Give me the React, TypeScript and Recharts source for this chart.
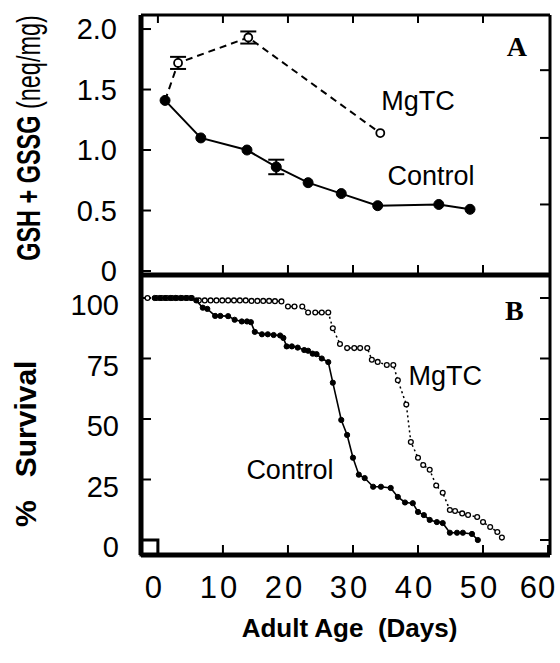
import React from 'react';
import { LineChart, Line, XAxis, YAxis, ErrorBar, ReferenceDot, ReferenceArea } from 'recharts';

const FONT = '"Liberation Sans", Arial, Helvetica, sans-serif';
const SERIF = '"Liberation Serif", "Times New Roman", serif';

// ---------- axes ----------
const X_DOMAIN: [number, number] = [-2.6, 60.3];
const xTicksBottom = [0, 10, 20, 30, 40, 50, 60];
const xTicksPanelA = [0, 10, 20, 30, 40, 50];
const xTicksPanelABottom = [10, 20, 30, 40, 50];
const GSH_DOMAIN: [number, number] = [-0.033, 2.116];
const gshTicks = [0, 0.5, 1.0, 1.5, 2.0];
const gshRightTicks = [0.55, 1.1, 1.66];
const SURV_DOMAIN: [number, number] = [-6.2, 109.5];
const survTicks = [0, 25, 50, 75, 100];

// ---------- panel A: GSH + GSSG ----------
const controlAgeDays = [1.1, 6.6, 13.7, 18.2, 23.1, 28.2, 33.8, 43.2, 48.0];
const controlGsh = [1.41, 1.10, 1.00, 0.86, 0.73, 0.64, 0.54, 0.55, 0.51];
const controlGshErr = [0, 0, 0, 0.06, 0, 0, 0, 0, 0];
const mgtcAgeDays = [1.1, 3.1, 13.9, 34.2];
const mgtcGsh = [1.41, 1.72, 1.93, 1.14];
const mgtcGshErr = [0, 0.05, 0.05, 0];

// ---------- panel B: % survival ----------
const controlSurvDays = [-0.5, 0.3, 1.1, 1.9, 2.7, 3.5, 4.3, 5.1, 5.9, 6.9, 7.6, 8.8, 9.6, 10.8, 11.8, 12.9, 13.7, 14.3, 14.9, 16.0, 16.9, 17.8, 18.8, 19.3, 19.8, 20.6, 21.5, 22.5, 23.1, 23.8, 24.4, 25.2, 26.2, 26.9, 28.2, 29.1, 30.0, 30.9, 31.8, 33.1, 34.3, 35.8, 36.9, 38.0, 39.2, 40.0, 40.9, 41.8, 42.9, 43.8, 44.9, 46.0, 46.9, 48.3, 49.2];
const controlSurv = [100, 100, 100, 100, 100, 100, 100, 100, 99, 96, 95.5, 92.6, 92.6, 92.5, 91, 90.3, 90.3, 90, 86, 85, 85, 84.7, 84.5, 83.5, 80, 80, 79.5, 78.5, 78.2, 77, 76.8, 75, 73.5, 65, 49.6, 43.4, 34, 27, 25.6, 22, 22, 21.5, 17.8, 15.5, 15.2, 11.6, 10.3, 8.3, 7.4, 7, 3, 3, 3, 2.5, 0];
const mgtcSurvDays = [-1.6, -0.2, 0.6, 1.4, 2.2, 2.9, 3.7, 4.5, 5.2, 6.3, 7.2, 8.1, 9.0, 9.9, 10.8, 11.7, 12.6, 13.5, 14.4, 15.3, 16.2, 17.1, 18.0, 19.0, 20.0, 21.0, 22.2, 23.1, 24.2, 25.2, 26.2, 26.9, 28.0, 29.1, 30.2, 31.1, 32.2, 32.9, 33.8, 35.2, 36.2, 36.9, 38.2, 38.9, 40.0, 40.8, 41.8, 42.8, 43.8, 44.9, 45.7, 46.8, 47.7, 49.1, 50.0, 51.1, 52.2, 52.9];
const mgtcSurv = [100, 100, 100, 100, 100, 100, 100, 100, 100, 99, 99, 99, 99, 99, 99, 99, 99, 99, 98.8, 98.8, 98.8, 98.8, 98.7, 98.6, 96.5, 96.5, 96.5, 94, 94, 94, 94, 87.5, 81, 79.3, 79.3, 79.3, 79.3, 74.5, 73.6, 72.3, 72.3, 66, 56, 40.5, 34, 31, 29, 22.5, 19.5, 12.4, 12, 11, 10.3, 9.5, 7.4, 5.4, 3.3, 1];

const zip = (xs: number[], ys: number[], es?: number[]) =>
  xs.map((x, i) => ({ x, y: ys[i], err: es ? es[i] : 0 }));

const controlGshData = zip(controlAgeDays, controlGsh, controlGshErr);
const mgtcGshData = zip(mgtcAgeDays, mgtcGsh, mgtcGshErr);
const controlSurvData = zip(controlSurvDays, controlSurv);
const mgtcSurvData = zip(mgtcSurvDays, mgtcSurv);

const tickText = { fill: '#000', fontSize: 29, fontFamily: FONT };
const axisThick = { stroke: '#000', strokeWidth: 5 };
const axisThin = { stroke: '#000', strokeWidth: 3 };
const tickStroke = { stroke: '#000', strokeWidth: 2 };

const AgeTick = (props: any) => {
  const { x, y, payload } = props;
  const last = payload.value === xTicksBottom[xTicksBottom.length - 1];
  return (
    <text
      x={x + (last ? -10 : -3)}
      y={y}
      dy={22}
      textAnchor="middle"
      fontFamily={FONT}
      fontSize={31}
      letterSpacing={last ? 1 : 3}
      fill="#000"
    >
      {String(payload.value)}
    </text>
  );
};

const GshTitle = (props: any) => {
  const vb = props.viewBox || { x: 0, y: 15, width: 141, height: 260 };
  const cx = vb.x + 28;
  const cy = vb.y + vb.height / 2 - 7;
  return (
    <text
      transform={`translate(${cx},${cy}) rotate(-90) scale(0.69,1)`}
      textAnchor="middle"
      dominantBaseline="central"
      fontFamily={FONT}
      fontSize={34}
      fill="#000"
    >
      <tspan fontWeight="bold">GSH + GSSG </tspan>
      <tspan>(neq/mg)</tspan>
    </text>
  );
};

const SurvTitle = (props: any) => {
  const vb = props.viewBox || { x: 0, y: 275, width: 141, height: 280 };
  const cx = vb.x + 25;
  const cy = vb.y + 252;
  return (
    <text
      transform={`translate(${cx},${cy}) rotate(-90)`}
      textAnchor="start"
      dominantBaseline="central"
      fontFamily={FONT}
      fontSize={30}
      fontWeight="bold"
      fill="#000"
    >
      <tspan>%</tspan>
      <tspan dx={23}>Survival</tspan>
    </text>
  );
};

const AgeTitle = (props: any) => {
  const vb = props.viewBox || { x: 141, y: 555, width: 409, height: 108 };
  return (
    <text
      x={vb.x + vb.width / 2 + 4}
      y={vb.y + 82}
      textAnchor="middle"
      fontFamily={FONT}
      fontSize={26}
      fontWeight="bold"
      fill="#000"
      style={{ whiteSpace: 'pre' }}
    >
      {'Adult Age  (Days)'}
    </text>
  );
};

const mgtcGshDot = (props: any) => {
  const { cx, cy, index } = props;
  if (index === 0) return <g key={`mg-${index}`} />;
  return <circle key={`mg-${index}`} cx={cx} cy={cy} r={4} fill="#fff" stroke="#000" strokeWidth={1.8} />;
};

const annot = (value: string, size = 27, family = FONT, weight: any = 'normal') => ({
  value,
  position: 'center' as const,
  fill: '#000',
  fontSize: size,
  fontFamily: family,
  fontWeight: weight,
});

export default function App() {
  return (
    <div style={{ position: 'absolute', left: 0, top: 0, width: 560, height: 663, background: '#fff' }}>
      {/* Panel A */}
      <div style={{ position: 'absolute', left: 0, top: 0 }}>
        <LineChart width={560} height={300} margin={{ top: 14, right: 0, bottom: 20, left: 0 }}>
          <XAxis
            xAxisId="b"
            type="number"
            dataKey="x"
            domain={X_DOMAIN}
            allowDataOverflow
            ticks={xTicksPanelABottom}
            interval={0}
            tickSize={-10}
            tickFormatter={() => ''}
            height={5}
            axisLine={axisThick}
            tickLine={tickStroke}
          />
          <XAxis
            xAxisId="t"
            orientation="top"
            type="number"
            dataKey="x"
            domain={X_DOMAIN}
            allowDataOverflow
            ticks={xTicksPanelA}
            interval={0}
            tickSize={-8}
            tickFormatter={() => ''}
            height={1}
            axisLine={axisThin}
            tickLine={tickStroke}
          />
          <YAxis
            yAxisId="l"
            type="number"
            domain={GSH_DOMAIN}
            allowDataOverflow
            ticks={gshTicks}
            interval={0}
            tickSize={-10}
            tickMargin={34}
            width={141}
            tick={tickText}
            tickFormatter={(v: number) => (v === 0 ? '0' : v.toFixed(1))}
            axisLine={axisThick}
            tickLine={tickStroke}
            label={{ content: GshTitle }}
          />
          <YAxis
            yAxisId="r"
            orientation="right"
            type="number"
            domain={GSH_DOMAIN}
            allowDataOverflow
            ticks={gshRightTicks}
            interval={0}
            tickSize={-10}
            tickFormatter={() => ''}
            width={10}
            axisLine={axisThin}
            tickLine={tickStroke}
          />
          <Line
            xAxisId="b"
            yAxisId="l"
            data={mgtcGshData}
            dataKey="y"
            stroke="#000"
            strokeWidth={2}
            strokeDasharray="7 5"
            dot={mgtcGshDot}
            isAnimationActive={false}
          >
            <ErrorBar dataKey="err" width={8} stroke="#000" strokeWidth={2} direction="y" />
          </Line>
          <Line
            xAxisId="b"
            yAxisId="l"
            data={controlGshData}
            dataKey="y"
            stroke="#000"
            strokeWidth={2}
            dot={{ r: 5, fill: '#000', stroke: '#000', strokeWidth: 1 }}
            isAnimationActive={false}
          >
            <ErrorBar dataKey="err" width={8} stroke="#000" strokeWidth={2} direction="y" />
          </Line>
          <ReferenceDot xAxisId="b" yAxisId="l" x={40} y={1.413} r={0} fill="none" stroke="none" label={annot('MgTC')} />
          <ReferenceDot xAxisId="b" yAxisId="l" x={42} y={0.793} r={0} fill="none" stroke="none" label={annot('Control')} />
          <ReferenceDot xAxisId="b" yAxisId="l" x={55.2} y={1.86} r={0} fill="none" stroke="none" label={annot('A', 28, SERIF, 'bold')} />
        </LineChart>
      </div>

      {/* Panel B */}
      <div style={{ position: 'absolute', left: 0, top: 0 }}>
        <LineChart width={560} height={663} margin={{ top: 275, right: 0, bottom: 0, left: 0 }}>
          <XAxis
            xAxisId="b"
            type="number"
            dataKey="x"
            domain={X_DOMAIN}
            allowDataOverflow
            ticks={xTicksBottom}
            interval={0}
            tickSize={-10}
            tickMargin={31}
            height={108}
            tick={AgeTick}
            axisLine={axisThick}
            tickLine={tickStroke}
            label={{ content: AgeTitle }}
          />
          <YAxis
            yAxisId="l"
            type="number"
            domain={SURV_DOMAIN}
            allowDataOverflow
            ticks={survTicks}
            interval={0}
            tickSize={-10}
            tickMargin={32}
            width={141}
            tick={{ ...tickText, dy: 7 }}
            axisLine={axisThick}
            tickLine={tickStroke}
            label={{ content: SurvTitle }}
          />
          <YAxis
            yAxisId="r"
            orientation="right"
            type="number"
            domain={SURV_DOMAIN}
            allowDataOverflow
            ticks={survTicks}
            interval={0}
            tickSize={-10}
            tickFormatter={() => ''}
            width={10}
            axisLine={axisThin}
            tickLine={tickStroke}
          />
          <ReferenceArea xAxisId="b" yAxisId="l" x1={-2.6} x2={0} y1={-6.2} y2={0} fill="none" stroke="#000" strokeWidth={3} />
          <Line
            xAxisId="b"
            yAxisId="l"
            data={mgtcSurvData}
            dataKey="y"
            stroke="#000"
            strokeWidth={1.5}
            strokeDasharray="2 3"
            dot={{ r: 2.4, fill: '#fff', stroke: '#000', strokeWidth: 1.3, strokeDasharray: '' }}
            isAnimationActive={false}
          />
          <Line
            xAxisId="b"
            yAxisId="l"
            data={controlSurvData}
            dataKey="y"
            stroke="#000"
            strokeWidth={1.6}
            dot={{ r: 2.6, fill: '#000', stroke: '#000', strokeWidth: 1 }}
            isAnimationActive={false}
          />
          <ReferenceDot xAxisId="b" yAxisId="l" x={44.2} y={68.2} r={0} fill="none" stroke="none" label={annot('MgTC')} />
          <ReferenceDot xAxisId="b" yAxisId="l" x={20.3} y={29.3} r={0} fill="none" stroke="none" label={annot('Control')} />
          <ReferenceDot xAxisId="b" yAxisId="l" x={54.8} y={95} r={0} fill="none" stroke="none" label={annot('B', 28, SERIF, 'bold')} />
        </LineChart>
      </div>
    </div>
  );
}
